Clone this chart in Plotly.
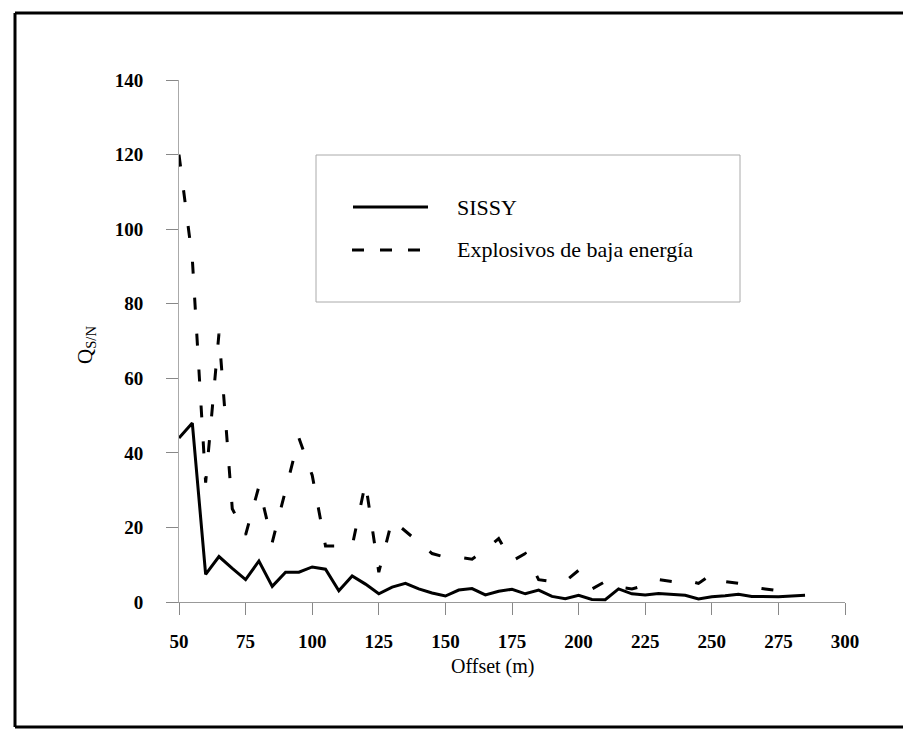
import plotly.graph_objects as go

# ---------------- data ----------------
offset_sissy = [50, 55, 60, 65, 70, 75, 80, 85, 90, 95, 100, 105, 110, 115, 120, 125,
                130, 135, 140, 145, 150, 155, 160, 165, 170, 175, 180, 185, 190, 195,
                200, 205, 210, 215, 220, 225, 230, 235, 240, 245, 250, 255, 260, 265,
                270, 275, 280, 285]
q_sissy = [44, 48, 7.4, 12.2, 9, 6, 11, 4.2, 8, 8, 9.4, 8.8, 3, 7, 4.8, 2.2,
           4, 5, 3.5, 2.4, 1.6, 3.2, 3.6, 1.9, 2.9, 3.4, 2.2, 3.2, 1.5, 0.9,
           1.8, 0.7, 0.6, 3.5, 2.2, 1.9, 2.3, 2.0, 1.8, 0.8, 1.4, 1.7, 2.1, 1.5,
           1.4, 1.4, 1.6, 1.8]

offset_expl = [50, 55, 60, 65, 70, 75, 80, 85, 90, 95, 100, 105, 110, 115, 120, 125,
               130, 135, 140, 145, 150, 155, 160, 165, 170, 175, 180, 185, 190, 195,
               200, 205, 210, 215, 220, 225, 230, 235, 240, 245, 250, 255, 260, 265,
               270, 275, 280]
q_expl = [120, 92, 32, 72, 25, 18, 31, 16, 30, 44, 34, 15, 15, 15, 32, 8,
          22, 19, 16, 13, 12, 12, 11.5, 14, 17, 11, 13, 6, 5.5, 5.5,
          8.5, 3.5, 5.5, 4, 3.5, 4.5, 6, 5.5, 6, 5, 7.5, 5.5, 5, 4,
          3.5, 3, 3]

name_sissy = "SISSY"
name_expl = "Explosivos de baja energía"
x_title = "Offset (m)"
y_title = "Q<sub>S/N</sub>"
x_ticks = [50, 75, 100, 125, 150, 175, 200, 225, 250, 275, 300]
y_ticks = [0, 20, 40, 60, 80, 100, 120, 140]

# ---------------- layout geometry ----------------
W, H = 903, 729
L, R, T, B = 179, 58, 80, 127
PW, PH = W - L - R, H - T - B


def px(xp):
    return (xp - L) / PW


def py(yp):
    return (H - B - yp) / PH


SERIF = "Liberation Serif, Times New Roman, serif"

fig = go.Figure()
fig.add_trace(go.Scatter(x=offset_sissy, y=q_sissy, mode="lines", name=name_sissy,
                         line=dict(color="black", width=3), showlegend=False))
fig.add_trace(go.Scatter(x=offset_expl, y=q_expl, mode="lines", name=name_expl,
                         line=dict(color="black", width=3, dash="12px,24px"),
                         showlegend=False))

shapes = []
# outer scanned frame
shapes.append(dict(type="line", xref="paper", yref="paper", x0=px(15), x1=px(910),
                   y0=py(13), y1=py(13), line=dict(color="black", width=3)))
shapes.append(dict(type="line", xref="paper", yref="paper", x0=px(15), x1=px(15),
                   y0=py(13), y1=py(727), line=dict(color="black", width=3)))
shapes.append(dict(type="line", xref="paper", yref="paper", x0=px(15), x1=px(910),
                   y0=py(727), y1=py(727), line=dict(color="black", width=3)))
# legend box
shapes.append(dict(type="rect", xref="paper", yref="paper", x0=px(316), x1=px(740),
                   y0=py(302), y1=py(155), line=dict(color="#aaaaaa", width=1)))
# legend samples
shapes.append(dict(type="line", xref="paper", yref="paper", x0=px(353), x1=px(428),
                   y0=py(207), y1=py(207), line=dict(color="black", width=3)))
shapes.append(dict(type="line", xref="paper", yref="paper", x0=px(352), x1=px(425),
                   y0=py(250), y1=py(250), line=dict(color="black", width=3, dash="12px,16px")))

annotations = [
    dict(text=name_sissy, xref="paper", yref="paper", x=px(455), y=py(207),
         xanchor="left", yanchor="middle", showarrow=False,
         font=dict(family=SERIF, size=22, color="black")),
    dict(text=name_expl, xref="paper", yref="paper", x=px(455), y=py(250),
         xanchor="left", yanchor="middle", showarrow=False,
         font=dict(family=SERIF, size=22, color="black")),
    dict(text=y_title, xref="paper", yref="paper", x=px(86), y=py(345),
         xanchor="center", yanchor="middle", showarrow=False, textangle=-90,
         font=dict(family=SERIF, size=21, color="black")),
    dict(text=x_title, xref="paper", yref="paper", x=px(493), y=py(666),
         xanchor="center", yanchor="middle", showarrow=False,
         font=dict(family=SERIF, size=20, color="black")),
]

fig.update_layout(
    width=W, height=H,
    margin=dict(l=L, r=R, t=T, b=B),
    paper_bgcolor="white", plot_bgcolor="white",
    showlegend=False,
    shapes=shapes, annotations=annotations,
    xaxis=dict(range=[50, 300], tickvals=x_ticks, ticks="outside", ticklen=12,
               tickcolor="#888888", showline=True, linecolor="#999999", linewidth=1,
               showgrid=False, zeroline=False, ticklabelstandoff=10,
               tickfont=dict(family=SERIF, size=19, color="black", weight="bold")),
    yaxis=dict(range=[0, 140], tickvals=y_ticks, ticks="outside", ticklen=12,
               tickcolor="#888888", showline=True, linecolor="#aaaaaa", linewidth=1,
               showgrid=False, zeroline=False, ticklabelstandoff=19,
               tickfont=dict(family=SERIF, size=19, color="black", weight="bold")),
)

fig.write_html("out.html")
